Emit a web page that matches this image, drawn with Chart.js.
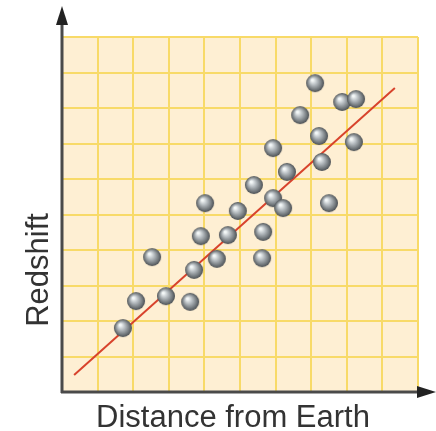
<!DOCTYPE html>
<html>
<head>
<meta charset="utf-8">
<script src="https://cdn.jsdelivr.net/npm/chart.js@4"></script>
<style>
  html, body { margin: 0; padding: 0; background: #fff; }
  #wrap { width: 436px; height: 431px; }
</style>
</head>
<body>
<div id="wrap"><canvas id="chart" width="436" height="431"></canvas></div>
<script>
// galaxy measurements, in grid units
const distance = [1.71, 2.08, 2.53, 2.92, 3.60, 3.71, 4.35, 3.90, 4.02, 4.66, 4.94, 5.39, 5.65,
                  5.62, 5.93, 6.21, 6.32, 5.93, 6.69, 7.11, 7.22, 7.30, 7.50, 7.87, 8.26, 8.20];
const redshift = [1.80, 2.56, 3.80, 2.70, 2.54, 3.44, 3.75, 4.39, 5.32, 4.42, 5.10, 5.83, 4.51,
                  3.77, 5.46, 5.18, 6.20, 6.87, 7.80, 8.70, 7.21, 6.48, 5.32, 8.17, 8.25, 7.04];
// best fit line end points
const fitX = [0.34, 9.35];
const fitY = [0.48, 8.56];

const xLabel = 'Distance from Earth';
const yLabel = 'Redshift';

// little shaded ball used as the point marker
function makeBall(r) {
    const c = document.createElement('canvas');
    c.width = c.height = r * 2 + 2;
    const g = c.getContext('2d');
    const cx = r + 1, cy = r + 1;
    const grad = g.createRadialGradient(cx - r * 0.3, cy - r * 0.35, r * 0.1, cx, cy, r);
    grad.addColorStop(0, '#f4f8f8');
    grad.addColorStop(0.35, '#b8bec2');
    grad.addColorStop(0.8, '#6e7478');
    grad.addColorStop(1, '#4a4e52');
    g.fillStyle = grad;
    g.beginPath();
    g.arc(cx, cy, r, 0, Math.PI * 2);
    g.fill();
    return c;
}

const paperAndAxes = {
    id: 'paperAndAxes',
    beforeDraw(chart) {
        const { ctx, chartArea: a } = chart;
        ctx.save();
        ctx.fillStyle = '#feefd3';
        ctx.fillRect(a.left, a.top, a.right - a.left, a.bottom - a.top);
        ctx.restore();
    },
    afterDraw(chart) {
        const { ctx, chartArea: a } = chart;
        ctx.save();
        ctx.strokeStyle = '#4a4a4a';
        ctx.fillStyle = '#222';
        ctx.lineWidth = 3;
        // y axis with arrow
        ctx.beginPath();
        ctx.moveTo(a.left, a.bottom + 1);
        ctx.lineTo(a.left, 20);
        ctx.stroke();
        ctx.beginPath();
        ctx.moveTo(a.left, 6);
        ctx.lineTo(a.left - 6, 25);
        ctx.lineTo(a.left + 6, 25);
        ctx.closePath();
        ctx.fill();
        // x axis with arrow
        ctx.beginPath();
        ctx.moveTo(a.left - 1, a.bottom);
        ctx.lineTo(420, a.bottom);
        ctx.stroke();
        ctx.beginPath();
        ctx.moveTo(436, a.bottom);
        ctx.lineTo(417, a.bottom - 6);
        ctx.lineTo(417, a.bottom + 6);
        ctx.closePath();
        ctx.fill();
        // axis titles
        ctx.fillStyle = '#333';
        ctx.font = '31px "Liberation Sans", Arial, sans-serif';
        ctx.textAlign = 'center';
        ctx.textBaseline = 'alphabetic';
        ctx.fillText(xLabel, 233, 427);
        ctx.translate(48, 270);
        ctx.rotate(-Math.PI / 2);
        ctx.fillText(yLabel, 0, 0);
        ctx.restore();
    }
};

const gridLines = {
    color: '#f8da68',
    lineWidth: 2,
    drawTicks: false
};

new Chart(document.getElementById('chart'), {
    type: 'scatter',
    data: {
        datasets: [
            {
                type: 'line',
                data: fitX.map((x, i) => ({ x, y: fitY[i] })),
                borderColor: '#d8432c',
                borderWidth: 2,
                pointRadius: 0,
                order: 2
            },
            {
                data: distance.map((x, i) => ({ x, y: redshift[i] })),
                pointStyle: makeBall(9),
                pointRadius: 9,
                order: 1
            }
        ]
    },
    options: {
        responsive: false,
        animation: false,
        layout: { padding: { left: 62, right: 18, top: 37, bottom: 39 } },
        plugins: { legend: { display: false }, tooltip: { enabled: false } },
        scales: {
            x: {
                min: 0, max: 10,
                ticks: { display: false, stepSize: 1 },
                grid: gridLines,
                border: { display: false }
            },
            y: {
                min: 0, max: 10,
                ticks: { display: false, stepSize: 1 },
                grid: gridLines,
                border: { display: false }
            }
        }
    },
    plugins: [paperAndAxes]
});
</script>
</body>
</html>
